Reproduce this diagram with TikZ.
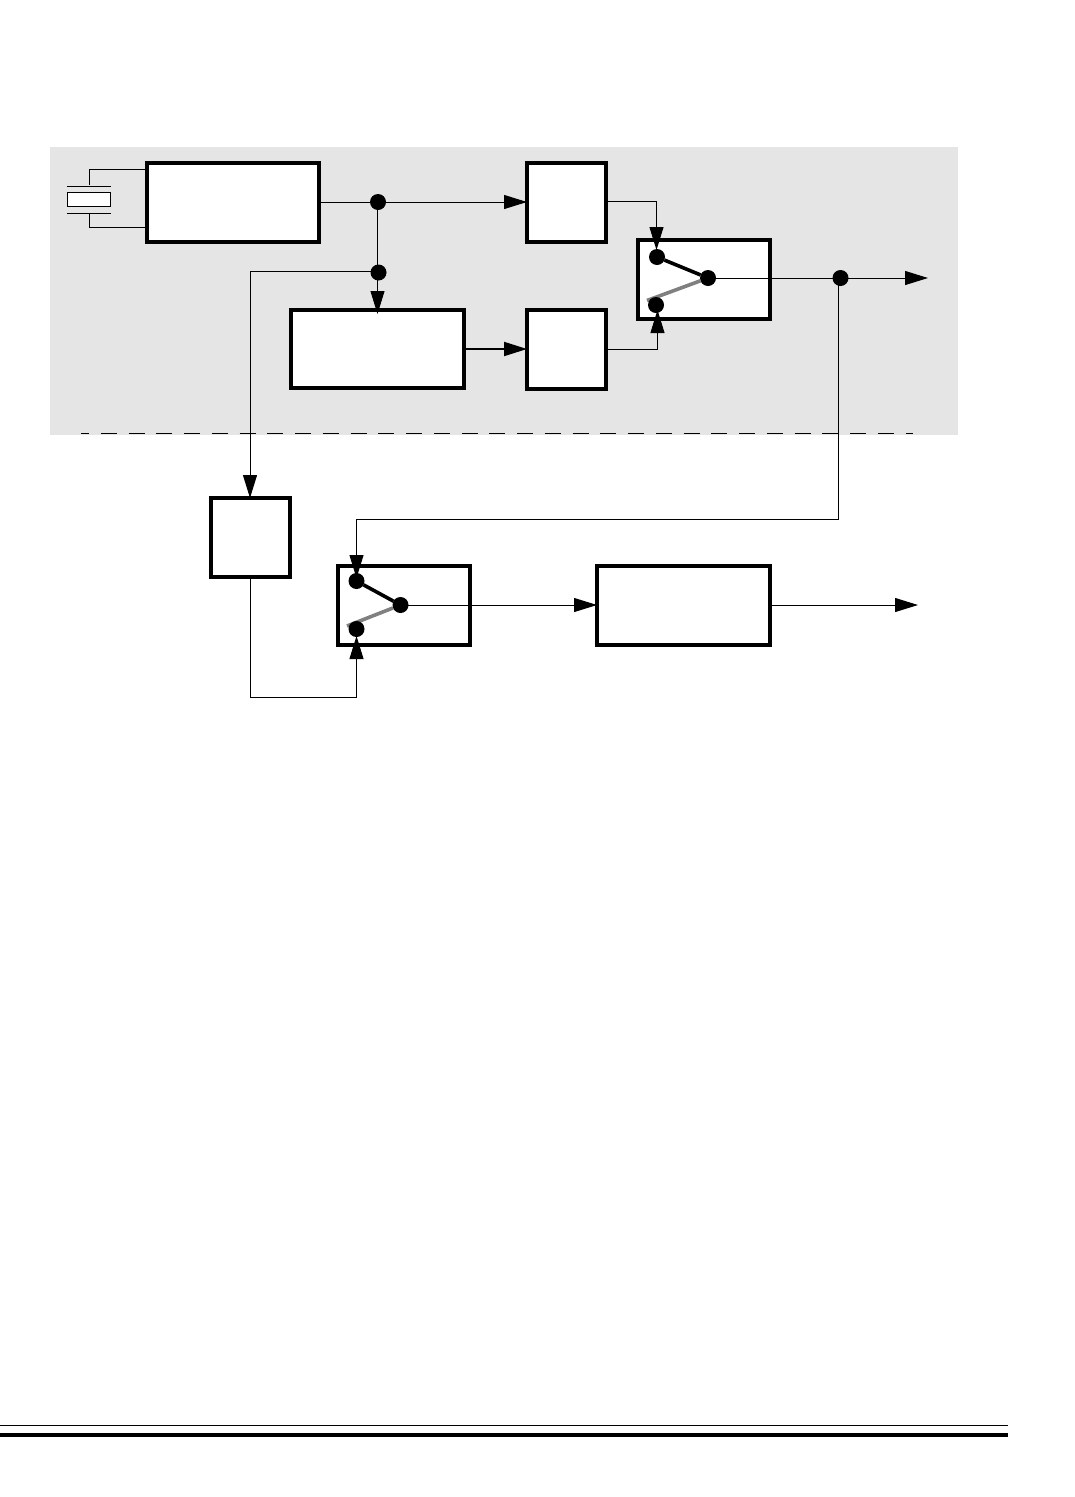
\documentclass[tikz,border=0pt]{standalone}
\usetikzlibrary{arrows.meta,calc}
\tikzset{
  blk/.style={draw=black,fill=white,line width=4pt,inner sep=0pt,outer sep=0pt,rectangle},
  wire/.style={draw=black,line width=1pt},
  arw/.style={wire,-{Triangle[length=23pt,width=14pt]}},
  dotnode/.style={circle,fill=black,inner sep=0pt,outer sep=0pt,minimum size=16pt},
  armon/.style={draw=black,line width=3.6pt},
  armoff/.style={draw=black!50,line width=3.6pt},
  plate/.style={draw=black,line width=1pt}
}
\begin{document}
\begin{tikzpicture}[x=1pt,y=-1pt]
\useasboundingbox (0,0) rectangle (1075,1497);
\fill[white] (0,0) rectangle (1075,1497);
\fill[black!10] (50,147) rectangle (958,435);
% blocks
\node[blk,minimum width=172pt,minimum height=79pt] (osc) at (233,202) {};
\node[blk,minimum width=79pt,minimum height=79pt] (b1) at (566.5,202) {};
\node[blk,minimum width=173pt,minimum height=78pt] (mid) at (377.5,349) {};
\node[blk,minimum width=79pt,minimum height=79pt] (b2) at (566.5,349.5) {};
\node[blk,minimum width=132pt,minimum height=79pt] (sw1) at (704,279.5) {};
\node[blk,minimum width=79pt,minimum height=79pt] (b3) at (250.5,537.5) {};
\node[blk,minimum width=132pt,minimum height=79pt] (sw2) at (404,605.5) {};
\node[blk,minimum width=173pt,minimum height=79pt] (b4) at (683.5,605.5) {};
% crystal
\node[draw=black,fill=white,line width=1pt,inner sep=0pt,outer sep=0pt,minimum width=43pt,minimum height=14pt] (xtal) at (89,199.5) {};
\coordinate (pt1) at (67,186.5); \coordinate (pt2) at (111,186.5);
\coordinate (pb1) at (67,213.5); \coordinate (pb2) at (111,213.5);
\draw[plate] (pt1) -- (pt2);
\draw[plate] (pb1) -- (pb2);
\coordinate (xt) at (89.5,185); \coordinate (xb) at (89.5,214);
\coordinate (ot) at (145,169); \coordinate (ob) at (145,227);
\draw[wire] (xt) |- (ot);
\draw[wire] (xb) |- (ob);
% dots
\node[dotnode] (d1) at (378,202) {};
\node[dotnode] (d2) at (378.5,272.5) {};
\node[dotnode] (d3) at (840.5,278) {};
\node[dotnode] (s1a) at (657,257) {};
\node[dotnode] (s1c) at (708,278) {};
\node[dotnode] (s2a) at (356.5,581) {};
\node[dotnode] (s2c) at (400.5,605) {};
% switch arms
\coordinate (g1) at (647,300.5); \coordinate (g2) at (347,626);
\draw[armoff] (g1) -- (s1c);
\draw[armon] (s1a) -- (s1c);
\draw[armoff] (g2) -- (s2c);
\draw[armon] (s2a) -- (s2c);
\node[dotnode] (s1b) at (656,305) {};
\node[dotnode] (s2b) at (356.5,629) {};
% top row
\draw[arw] (osc.east |- d1) -- (b1.west |- d1);
\coordinate (midtip) at (377.5,314);
\draw[arw] (377.5,202) -- (midtip);
\coordinate (l3) at (250,271);
\coordinate (b3tip) at (250,498);
\draw[wire] (d2.center |- l3) -- (l3);
\draw[arw] (l3) -- (b3tip);
% mid to b2
\draw[draw=black,line width=2pt,-{Triangle[length=23pt,width=14pt]}] (mid.east) -- (b2.west |- mid.east);
% to switch 1
\coordinate (s1in) at (656.5,250); \coordinate (s1in2) at (657.5,310);
\coordinate (b1o) at (606,201.5); \coordinate (b2o) at (606,349.5);
\draw[arw] (b1o) -| (s1in);
\draw[arw] (b2o) -| (s1in2);
% outputs
\coordinate (out1) at (928,278);
\draw[arw] (s1c.center) -- (out1);
\coordinate (down) at (838.5,519);
\coordinate (s2in) at (356.5,578);
\draw[wire] (838.5,278) -- (down);
\draw[arw] (down) -| (s2in);
\coordinate (b3b) at (250,697);
\coordinate (s2in2) at (356.5,636);
\draw[wire] (b3.south -| b3b) -- (b3b);
\draw[arw] (b3b) -| (s2in2);
\draw[arw] (s2c.center) -- (b4.west |- s2c);
\coordinate (out2) at (918,605);
\draw[arw] (b4.east |- s2c) -- (out2);
% dashed border
\coordinate (da) at (81,433.5); \coordinate (db) at (913,433.5);
\draw[wire,dash pattern=on 16pt off 11.75pt,dash phase=8pt] (da) -- (db);
% bottom rules
\coordinate (ra) at (0,1425.5); \coordinate (rb) at (1008,1425.5);
\coordinate (rc) at (0,1435); \coordinate (rd) at (1008,1435);
\draw[wire] (ra) -- (rb);
\draw[draw=black,line width=4.4pt] (rc) -- (rd);
\end{tikzpicture}
\end{document}
